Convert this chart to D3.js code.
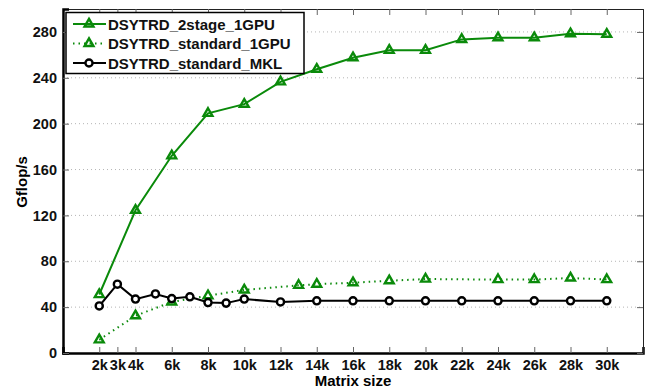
<!DOCTYPE html>
<html>
<head>
<meta charset="utf-8">
<script src="https://cdn.jsdelivr.net/npm/d3@7"></script>
<style>
  body { margin: 0; background: #fff; }
  svg text { font-family: "Liberation Sans", Arial, sans-serif; font-weight: bold; }
</style>
</head>
<body>
<div id="chart"></div>
<script>
// matrix sizes in thousands, Gflop/s
const sizes2stage = [2, 4, 6, 8, 10, 12, 14, 16, 18, 20, 22, 24, 26, 28, 30];
const gflops2stage = [51, 124.5, 172, 209, 217, 236.5, 247.5, 257.5, 264, 264, 273.5, 275, 275, 278.5, 278];

const sizesStd = [2, 4, 6, 8, 10, 13, 14, 16, 18, 20, 24, 26, 28, 30];
const gflopsStd = [11.5, 32.5, 44.5, 50, 55, 59, 60, 61.3, 63, 64.5, 64, 64, 65.4, 64];

const sizesMkl = [2, 3, 4, 5.1, 6, 7, 8, 9, 10, 12, 14, 16, 18, 20, 22, 24, 26, 28, 30];
const gflopsMkl = [41, 60, 47, 51.5, 47.5, 49, 44, 43.5, 47, 44.5, 45.5, 45.5, 45.5, 45.5, 45.5, 45.5, 45.5, 45.5, 45.5];

const xTicks = [2, 3, 4, 6, 8, 10, 12, 14, 16, 18, 20, 22, 24, 26, 28, 30];
const yTicks = [0, 40, 80, 120, 160, 200, 240, 280];

const seriesNames = ["DSYTRD_2stage_1GPU", "DSYTRD_standard_1GPU", "DSYTRD_standard_MKL"];

const width = 648, height = 390;
const margin = {top: 9, right: 5, bottom: 37, left: 63};
const GREEN = "#0a8a0a";

const svg = d3.select("#chart").append("svg")
  .attr("width", width).attr("height", height);

const x = d3.scaleLinear().domain([0, 32]).range([margin.left, width - margin.right]);
const y = d3.scaleLinear().domain([0, 300]).range([height - margin.bottom, margin.top]);

// horizontal dotted grid
svg.append("g").selectAll("line")
  .data(yTicks.filter(d => d > 0))
  .enter().append("line")
    .attr("x1", x(0)).attr("x2", x(32))
    .attr("y1", d => y(d)).attr("y2", d => y(d))
    .attr("stroke", "#b5b5b5")
    .attr("stroke-width", 1)
    .attr("stroke-dasharray", "1,3");

// axes with inward ticks
const axisB = svg.append("g")
  .attr("transform", "translate(0," + y(0) + ")")
  .call(d3.axisBottom(x).tickValues(xTicks).tickSize(-6).tickPadding(7).tickFormat(d => d + "k"));
const axisT = svg.append("g")
  .attr("transform", "translate(0," + y(300) + ")")
  .call(d3.axisTop(x).tickValues(xTicks).tickSize(-6).tickFormat(""));
const axisL = svg.append("g")
  .attr("transform", "translate(" + x(0) + ",0)")
  .call(d3.axisLeft(y).tickValues(yTicks).tickSize(-6).tickPadding(6));
const axisR = svg.append("g")
  .attr("transform", "translate(" + x(32) + ",0)")
  .call(d3.axisRight(y).tickValues(yTicks).tickSize(-6).tickFormat(""));

[axisB, axisT, axisL, axisR].forEach(a => {
  a.selectAll(".tick line").attr("stroke", "#666");
  a.select(".domain").attr("stroke", "#222").attr("stroke-width", 1);
  a.selectAll("text").attr("fill", "#111").style("font-size", "14.5px");
});
axisL.select(".domain").attr("stroke", "#000").attr("stroke-width", 2.5);
axisB.select(".domain").attr("stroke", "#000").attr("stroke-width", 2.5);

// axis titles
svg.append("text")
  .attr("x", x(16)).attr("y", 386)
  .attr("text-anchor", "middle")
  .style("font-size", "15px")
  .text("Matrix size");
svg.append("text")
  .attr("transform", "translate(27," + 182 + ") rotate(-90)")
  .attr("text-anchor", "middle")
  .style("font-size", "15px")
  .text("Gflop/s");

const line = d3.line().x(d => x(d[0])).y(d => y(d[1]));
const tri = d3.symbol().type(d3.symbolTriangle).size(34);
const circ = d3.symbol().type(d3.symbolCircle).size(40);

const series = [
  {xs: sizes2stage, ys: gflops2stage, color: GREEN, dash: null, marker: "tri"},
  {xs: sizesStd, ys: gflopsStd, color: GREEN, dash: "1.5,4", marker: "tri"},
  {xs: sizesMkl, ys: gflopsMkl, color: "#000", dash: null, marker: "circ"}
];

series.forEach(s => {
  const pts = s.xs.map((v, i) => [v, s.ys[i]]);
  svg.append("path")
    .datum(pts)
    .attr("fill", "none")
    .attr("stroke", s.color)
    .attr("stroke-width", 2)
    .attr("stroke-dasharray", s.dash)
    .attr("d", line);
  svg.append("g").selectAll("path")
    .data(pts)
    .enter().append("path")
      .attr("transform", d => "translate(" + x(d[0]) + "," + y(d[1]) + ")")
      .attr("d", s.marker === "tri" ? tri : circ)
      .attr("fill", s.marker === "tri" ? "none" : "#fff")
      .attr("stroke", s.color)
      .attr("stroke-width", 2.4);
});

// legend
const legend = svg.append("g");
legend.append("rect")
  .attr("x", 66).attr("y", 12.5).attr("width", 238).attr("height", 61)
  .attr("fill", "#fff").attr("stroke", "#000").attr("stroke-width", 1.5);
series.forEach((s, i) => {
  const ly = 24 + i * 19.5;
  legend.append("line")
    .attr("x1", 73).attr("x2", 106).attr("y1", ly).attr("y2", ly)
    .attr("stroke", s.color).attr("stroke-width", 2)
    .attr("stroke-dasharray", s.dash);
  legend.append("path")
    .attr("transform", "translate(89," + ly + ")")
    .attr("d", s.marker === "tri" ? tri : circ)
    .attr("fill", s.marker === "tri" ? "none" : "#fff")
    .attr("stroke", s.color).attr("stroke-width", 2.4);
  legend.append("text")
    .attr("x", 108).attr("y", ly + 5.5)
    .style("font-size", "15px")
    .attr("fill", "#111")
    .text(seriesNames[i]);
});
</script>
</body>
</html>
